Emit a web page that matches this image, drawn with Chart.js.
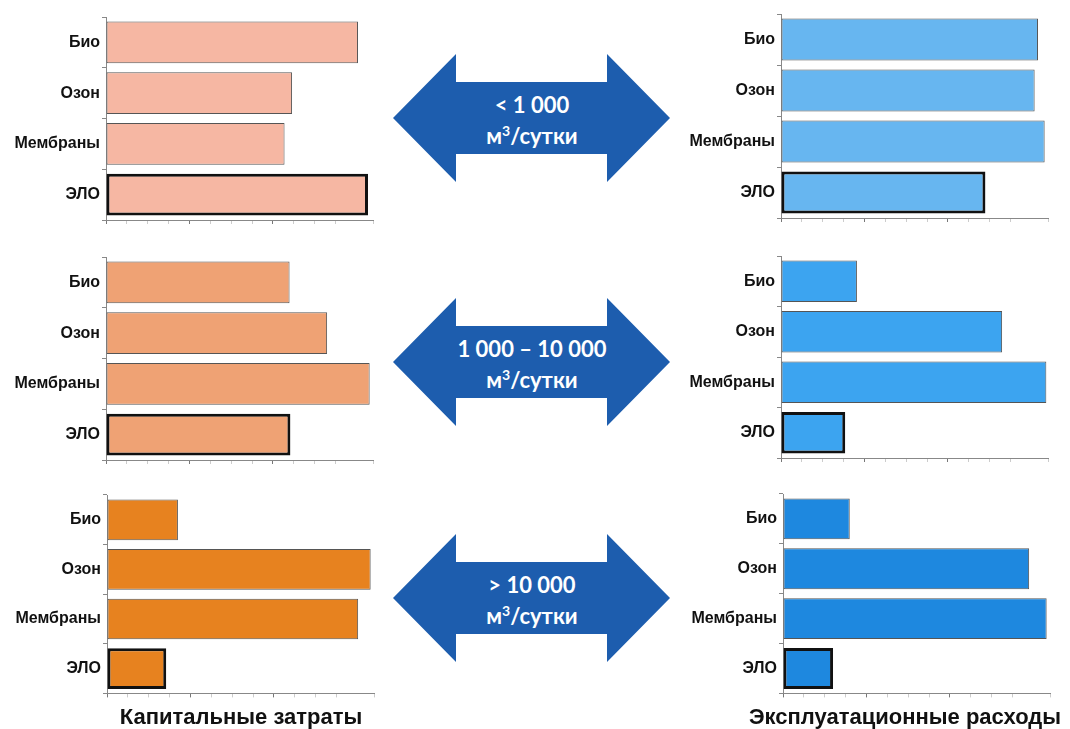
<!DOCTYPE html>
<html>
<head>
<meta charset="utf-8">
<script src="https://cdn.jsdelivr.net/npm/chart.js@4.4.1/dist/chart.umd.min.js"></script>
<style>
  body { margin: 0; background: #fff; }
  #page { position: relative; width: 1070px; height: 729px; overflow: hidden; background: #fff; }
  .box { position: absolute; }
  .flow { position: absolute; width: 280px; text-align: center; color: #fff;
          font-family: Lato, "Open Sans", sans-serif; font-weight: bold; font-size: 22px; line-height: 31px; }
  .flow sup { font-size: 14px; vertical-align: 8px; line-height: 0; }
  .colTitle { position: absolute; font-family: "Liberation Sans", Arial, sans-serif; font-weight: bold;
              font-size: 22px; color: #111; text-align: center; width: 400px; }
</style>
</head>
<body>
<div id="page">
  <svg id="arrows" width="1070" height="729" style="position:absolute;left:0;top:0"></svg>
</div>
<script>
// технологии
const categories = ['Био', 'Озон', 'Мембраны', 'ЭЛО'];

// капитальные затраты (условные единицы)
const capexSmall = [3.02, 2.23, 2.14, 3.14];
const capexMedium = [2.20, 2.65, 3.16, 2.21];
const capexLarge = [0.85, 3.16, 3.01, 0.71];

// эксплуатационные расходы
const opexSmall = [3.08, 3.04, 3.16, 2.45];
const opexMedium = [0.91, 2.65, 3.18, 0.77];
const opexLarge = [0.80, 2.95, 3.16, 0.60];

// производительность
const flowRanges = ['< 1 000', '1 000 – 10 000', '> 10 000'];
const flowUnit = 'м<sup>3</sup>/сутки';

const columnTitles = ['Капитальные затраты', 'Эксплуатационные расходы'];

const xMax = 3.2;

const page = document.getElementById('page');

function makeChart(values, color, canvasBox, area) {
    const wrap = document.createElement('div');
    wrap.className = 'box';
    wrap.style.left = canvasBox.x + 'px';
    wrap.style.top = canvasBox.y + 'px';
    const canvas = document.createElement('canvas');
    canvas.width = canvasBox.w;
    canvas.height = canvasBox.h;
    wrap.appendChild(canvas);
    page.appendChild(wrap);

    const yAxisWidth = area.x0 - canvasBox.x;
    const xAxisHeight = 6;

    return new Chart(canvas, {
        type: 'bar',
        data: {
            labels: categories,
            datasets: [{
                data: values,
                backgroundColor: color,
                borderColor: ['#555', '#555', '#555', '#111'],
                borderWidth: [1, 1, 1, 3],
                borderSkipped: false,
                barPercentage: 0.82,
                categoryPercentage: 1
            }]
        },
        options: {
            responsive: false,
            animation: false,
            indexAxis: 'y',
            layout: {
                padding: {
                    left: 0,
                    top: area.y0 - canvasBox.y,
                    right: canvasBox.x + canvasBox.w - area.x1,
                    bottom: canvasBox.y + canvasBox.h - area.y1 - xAxisHeight
                }
            },
            plugins: {
                legend: { display: false },
                tooltip: { enabled: false }
            },
            scales: {
                x: {
                    min: 0,
                    max: xMax,
                    ticks: {
                        display: false,
                        stepSize: 0.25
                    },
                    grid: {
                        drawOnChartArea: false,
                        tickLength: 4,
                        color: ctx => (ctx.tick && Number.isInteger(ctx.tick.value)) ? '#777' : '#ccc'
                    },
                    border: { color: '#888', width: 1 },
                    afterFit: s => { s.height = xAxisHeight; }
                },
                y: {
                    ticks: {
                        color: '#111',
                        padding: 2,
                        font: { family: '"Liberation Sans", Arial, sans-serif', weight: 'bold', size: 16 }
                    },
                    grid: {
                        drawOnChartArea: false,
                        tickLength: 4,
                        color: '#888'
                    },
                    border: { color: '#888', width: 1 },
                    afterFit: s => { s.width = yAxisWidth; }
                }
            }
        }
    });
}

// левая колонка — капитальные затраты
makeChart(capexSmall, '#F6B7A3', { x: 0, y: 0, w: 390, h: 240 }, { x0: 106, x1: 373, y0: 17, y1: 220 });
makeChart(capexMedium, '#EFA274', { x: 0, y: 240, w: 390, h: 240 }, { x0: 106, x1: 373, y0: 257, y1: 460 });
makeChart(capexLarge, '#E7821F', { x: 0, y: 480, w: 390, h: 225 }, { x0: 107, x1: 374, y0: 495, y1: 697 });

// правая колонка — эксплуатационные расходы
makeChart(opexSmall, '#67B6F0', { x: 680, y: 0, w: 390, h: 240 }, { x0: 781, x1: 1048, y0: 14, y1: 218 });
makeChart(opexMedium, '#3CA4F0', { x: 680, y: 240, w: 390, h: 240 }, { x0: 781, x1: 1048, y0: 256, y1: 458 });
makeChart(opexLarge, '#1E88DF', { x: 680, y: 480, w: 390, h: 225 }, { x0: 783, x1: 1050, y0: 494, y1: 694 });

// двойные стрелки с диапазонами производительности
const arrowCenters = [118, 362, 598];
const svg = document.getElementById('arrows');
arrowCenters.forEach((cy, i) => {
    const l = 393, r = 670, bl = 456, br = 607, hh = 64, sh = 36;
    const pts = [
        [l, cy], [bl, cy - hh], [bl, cy - sh], [br, cy - sh], [br, cy - hh],
        [r, cy], [br, cy + hh], [br, cy + sh], [bl, cy + sh], [bl, cy + hh]
    ].map(p => p.join(',')).join(' ');
    const poly = document.createElementNS('http://www.w3.org/2000/svg', 'polygon');
    poly.setAttribute('points', pts);
    poly.setAttribute('fill', '#1D5DAE');
    svg.appendChild(poly);

    const txt = document.createElement('div');
    txt.className = 'flow';
    txt.style.left = (Math.round((l + r) / 2) - 140) + 'px';
    txt.style.top = (cy - 29) + 'px';
    txt.innerHTML = flowRanges[i] + '<br>' + flowUnit;
    page.appendChild(txt);
});

// подписи колонок
[241, 905].forEach((cx, i) => {
    const t = document.createElement('div');
    t.className = 'colTitle';
    t.style.left = (cx - 200) + 'px';
    t.style.top = '704px';
    t.textContent = columnTitles[i];
    page.appendChild(t);
});
</script>
</body>
</html>
